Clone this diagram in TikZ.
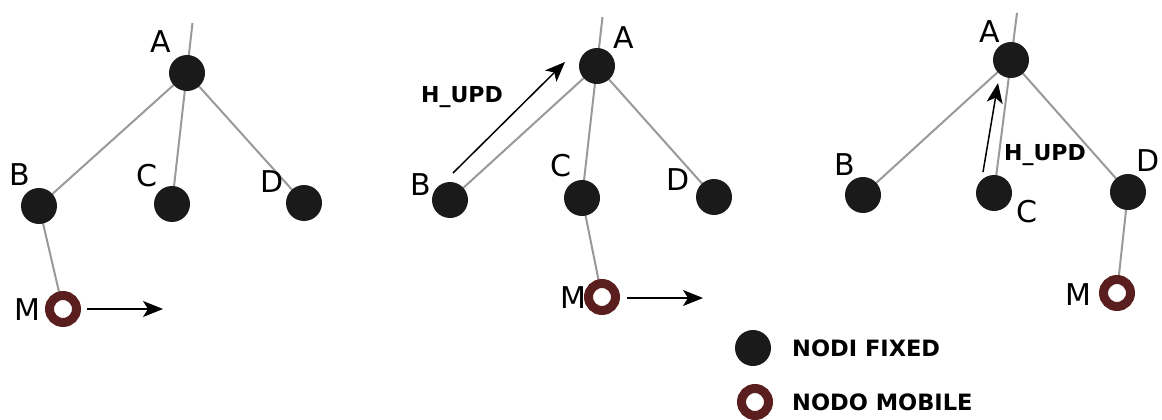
\documentclass[tikz,border=0pt]{standalone}
\usepackage{fontspec}
\setmainfont{DejaVu Sans}
\usetikzlibrary{arrows.meta,backgrounds}
\definecolor{nodeblack}{HTML}{1A1A1A}
\definecolor{ringred}{HTML}{5A1E1E}
\definecolor{edgegray}{HTML}{999999}
\begin{document}
\begin{tikzpicture}[x=1pt,y=-1pt,
  fixed/.style={circle,fill=nodeblack,inner sep=0pt,minimum size=36pt},
  mobile/.style={circle,draw=ringred,line width=9pt,fill=white,inner sep=0pt,minimum size=27pt},
  edge/.style={draw=edgegray,line width=2pt},
  move/.style={draw=black,line width=1.5pt,-{Stealth[length=20pt,width=16pt,inset=5pt]}},
  lbl/.style={inner sep=0pt,font=\fontsize{30}{34}\selectfont},
  msg/.style={inner sep=0pt,font=\fontsize{22}{26}\selectfont\bfseries},
  legend/.style={inner sep=0pt,anchor=west,font=\fontsize{22.5}{26}\selectfont\bfseries}]
\useasboundingbox (0,0) rectangle (1162,420);

% ---------- first tree: M attached to B ----------
\node[fixed] (A1) at (187,73) {};
\node[fixed] (B1) at (39,206) {};
\node[fixed] (C1) at (172,204) {};
\node[fixed] (D1) at (304,203) {};
\node[mobile] (M1) at (63,309) {};
\coordinate (T1) at (192.5,23);
\coordinate (S1) at (87,309);
\coordinate (R1) at (163,309);
\begin{scope}[on background layer]
  \draw[edge] (C1.center) -- (T1);
  \draw[edge] (A1.center) -- (B1.center);
  \draw[edge] (A1.center) -- (D1.center);
  \draw[edge] (B1.center) -- (M1.center);
\end{scope}
\draw[move] (S1) -- (R1);
\node[lbl] (lA1) at (161,42) {A};
\node[lbl] (lB1) at (20,175) {B};
\node[lbl] (lC1) at (147,176) {C};
\node[lbl] (lD1) at (272,182) {D};
\node[lbl] (lM1) at (27,310) {M};

% ---------- second tree: M attached to C, update sent by B ----------
\node[fixed] (A2) at (597,66) {};
\node[fixed] (B2) at (450,200) {};
\node[fixed] (C2) at (582,198) {};
\node[fixed] (D2) at (714,197) {};
\node[mobile] (M2) at (602,297) {};
\coordinate (T2) at (602.5,17);
\coordinate (S2) at (627,298);
\coordinate (R2) at (703,298);
\coordinate (U2s) at (453,173);
\coordinate (U2e) at (565,62);
\begin{scope}[on background layer]
  \draw[edge] (C2.center) -- (T2);
  \draw[edge] (A2.center) -- (B2.center);
  \draw[edge] (A2.center) -- (D2.center);
  \draw[edge] (C2.center) -- (M2.center);
\end{scope}
\draw[move] (S2) -- (R2);
\draw[move] (U2s) -- (U2e);
\node[msg] (h2) at (462,97) {H\_UPD};
\node[lbl] (lA2) at (624,38) {A};
\node[lbl] (lB2) at (421,185) {B};
\node[lbl] (lC2) at (561,166) {C};
\node[lbl] (lD2) at (678,180) {D};
\node[lbl] (lM2) at (573,298) {M};

% ---------- third tree: M attached to D, update sent by C ----------
\node[fixed] (A3) at (1011,60) {};
\node[fixed] (B3) at (863,195) {};
\node[fixed] (C3) at (994,193) {};
\node[fixed] (D3) at (1128,192) {};
\node[mobile] (M3) at (1117,293) {};
\coordinate (T3) at (1017,13);
\coordinate (U3s) at (983,172);
\coordinate (U3e) at (998,83);
\begin{scope}[on background layer]
  \draw[edge] (C3.center) -- (T3);
  \draw[edge] (A3.center) -- (B3.center);
  \draw[edge] (A3.center) -- (D3.center);
  \draw[edge] (D3.center) -- (M3.center);
\end{scope}
\draw[move] (U3s) -- (U3e);
\node[msg] (h3) at (1045,155) {H\_UPD};
\node[lbl] (lA3) at (990,32) {A};
\node[lbl] (lB3) at (845,165) {B};
\node[lbl] (lC3) at (1027,212) {C};
\node[lbl] (lD3) at (1148,161) {D};
\node[lbl] (lM3) at (1078,295) {M};

% ---------- legend ----------
\node[fixed] (kF) at (753,348) {};
\node[mobile] (kM) at (755,402) {};
\node[legend] (tF) at (792,348) {NODI FIXED};
\node[legend] (tM) at (792,402) {NODO MOBILE};
\end{tikzpicture}
\end{document}
